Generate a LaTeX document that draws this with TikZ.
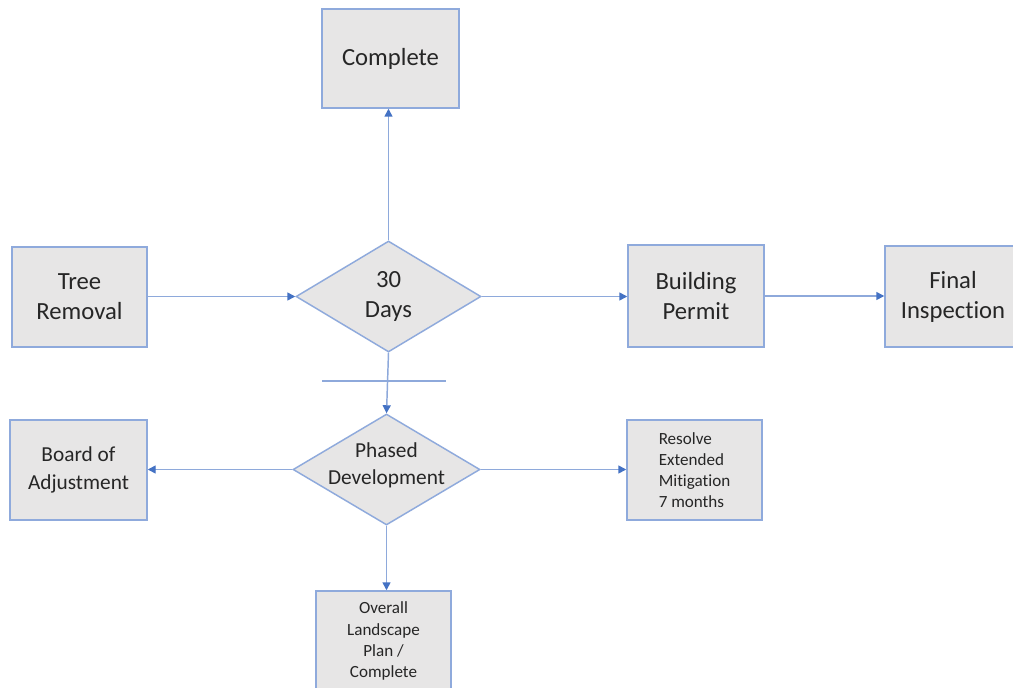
\documentclass[tikz,border=0pt]{standalone}
\usepackage{fontspec}
\setmainfont{Carlito}[Ligatures={NoCommon}]
\usetikzlibrary{shapes.geometric,arrows.meta}
\definecolor{boxfill}{HTML}{E7E6E6}
\definecolor{boxline}{HTML}{8FAADC}
\definecolor{arrline}{HTML}{8EA9DB}
\definecolor{arrhead}{HTML}{4472C4}
\definecolor{txt}{HTML}{262626}
\tikzset{
  stepbox/.style={draw=boxline, fill=boxfill, line width=1.1pt, rectangle, inner sep=0pt, align=center, text=txt},
  decide/.style={draw=boxline, fill=boxfill, line width=1.1pt, diamond, aspect=1.67, inner sep=0pt, align=center, text=txt},
  big/.style={font=\fontsize{18.5}{22.5}\selectfont},
  mid/.style={font=\fontsize{16}{20.5}\selectfont},
  small/.style={font=\fontsize{12.8}{15.8}\selectfont},
  conn/.style={draw=arrline, line width=1.1pt, -{Triangle[length=6pt,width=6pt,color=arrhead]}},
}
\begin{document}
\begin{tikzpicture}[x=0.75pt,y=-0.75pt]
\useasboundingbox (0,0) rectangle (1013,688);
\clip (0,0) rectangle (1013,688);
\fill[white] (0,0) rectangle (1013,688);
\node[stepbox,big,minimum width=137*0.75pt,minimum height=99*0.75pt] (complete) at (390.5,58.5) {Complete};
\node[stepbox,big,minimum width=135*0.75pt,minimum height=100*0.75pt] (tree) at (79.5,297) {Tree\\Removal};
\node[decide,big,minimum width=185*0.75pt,minimum height=111*0.75pt] (d30) at (388.5,296.5) {30\\Days};
\node[stepbox,big,minimum width=136*0.75pt,minimum height=102*0.75pt] (bp) at (696,296) {Building\\Permit};
\node[stepbox,big,minimum width=136*0.75pt,minimum height=101*0.75pt] (fi) at (953,296.5) {Final\\Inspection};
\node[decide,minimum width=187*0.75pt,minimum height=111*0.75pt,
      label={[mid,align=center,text=txt,yshift=3pt]center:Phased\\Development}] (pd) at (386.5,469.5) {};
\node[stepbox,mid,minimum width=137*0.75pt,minimum height=100*0.75pt] (board) at (78.5,470) {Board of\\Adjustment};
\node[stepbox,small,align=left,minimum width=135*0.75pt,minimum height=100*0.75pt] (resolve) at (694.5,470) {Resolve\\Extended\\Mitigation\\7 months};
\node[stepbox,small,minimum width=135*0.75pt,minimum height=100*0.75pt] (overall) at (383.5,641) {Overall\\Landscape\\Plan /\\Complete};
\coordinate (barl) at (322,381);
\coordinate (barr) at (446,381);
\draw[draw=arrline, line width=1.1pt] (barl) -- (barr);
\draw[conn] (d30.north) -- (d30.north |- complete.south);
\draw[conn] (tree.east |- d30.west) -- (d30.west);
\draw[conn] (d30.east) -- (d30.east -| bp.west);
\draw[conn] (bp.east) -- (bp.east -| fi.west);
\draw[conn] (d30.south) -- (pd.north);
\draw[conn] (pd.west) -- (pd.west -| board.east);
\draw[conn] (pd.east) -- (pd.east -| resolve.west);
\draw[conn] (pd.south) -- (pd.south |- overall.north);
\end{tikzpicture}
\end{document}
